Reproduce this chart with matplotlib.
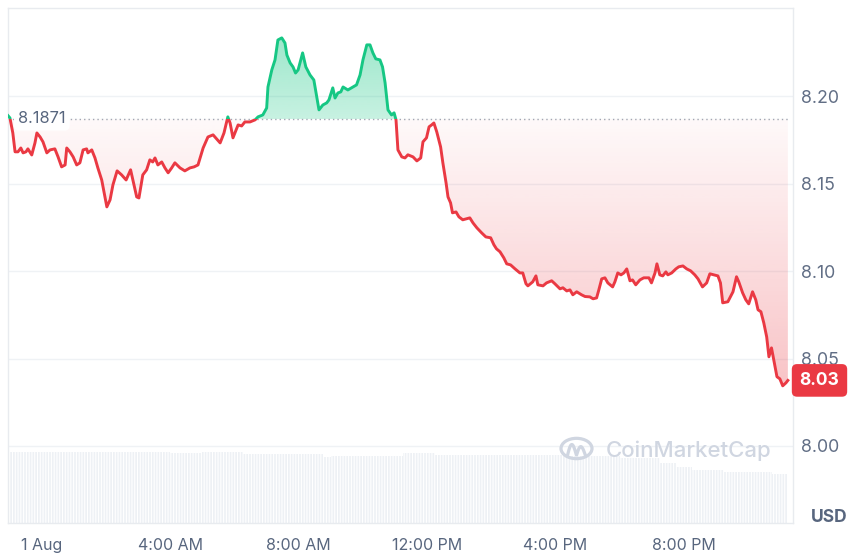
import matplotlib
matplotlib.use("Agg")
import matplotlib.pyplot as plt
import numpy as np
from matplotlib.patches import Rectangle, Circle
from matplotlib.lines import Line2D
from matplotlib.transforms import blended_transform_factory
from matplotlib.colors import to_rgb

plt.rcParams['font.family'] = ['Inter', 'DejaVu Sans']
plt.rcParams['hatch.linewidth'] = 0.8
plt.rcParams['hatch.color'] = 'white'

# ---- data (hours relative to 1 Aug 00:00) ----
hours = [-1.06, -1.00, -0.91, -0.84, -0.75, -0.66, -0.59, -0.50, -0.44, -0.32,
         -0.22, -0.16, -0.06, 0.03, 0.15, 0.25, 0.40, 0.50, 0.61, 0.72,
         0.77, 0.87, 0.97, 1.08, 1.18, 1.28, 1.39, 1.43, 1.55, 1.65,
         1.74, 1.86, 1.96, 2.02, 2.12, 2.21, 2.34, 2.48, 2.62, 2.76,
         2.83, 2.95, 3.02, 3.14, 3.26, 3.36, 3.45, 3.52, 3.61, 3.73,
         3.83, 3.93, 4.04, 4.14, 4.30, 4.45, 4.61, 4.74, 4.86, 5.02,
         5.17, 5.33, 5.55, 5.67, 5.79, 5.86, 5.95, 6.11, 6.22, 6.32,
         6.48, 6.64, 6.73, 6.88, 7.00, 7.04, 7.16, 7.26, 7.35, 7.47,
         7.57, 7.63, 7.73, 7.82, 7.90, 7.98, 8.12, 8.22, 8.35, 8.47,
         8.56, 8.63, 8.75, 8.87, 8.94, 9.06, 9.13, 9.22, 9.31, 9.38,
         9.53, 9.69, 9.80, 9.91, 10.00, 10.12, 10.22, 10.31, 10.40, 10.53,
         10.61, 10.69, 10.78, 10.89, 10.97, 11.03, 11.09, 11.21, 11.31, 11.40,
         11.56, 11.68, 11.80, 11.87, 11.98, 12.06, 12.14, 12.21, 12.30, 12.42,
         12.49, 12.59, 12.65, 12.73, 12.79, 12.90, 12.99, 13.11, 13.33, 13.43,
         13.55, 13.70, 13.83, 13.98, 14.08, 14.16, 14.27, 14.39, 14.48, 14.60,
         14.74, 14.89, 14.98, 15.08, 15.14, 15.29, 15.39, 15.45, 15.61, 15.72,
         15.88, 15.98, 16.14, 16.23, 16.35, 16.45, 16.54, 16.66, 16.81, 16.92,
         17.07, 17.17, 17.28, 17.35, 17.44, 17.54, 17.63, 17.78, 17.85, 17.94,
         18.04, 18.13, 18.22, 18.32, 18.40, 18.50, 18.63, 18.75, 18.91, 18.99,
         19.10, 19.16, 19.25, 19.34, 19.44, 19.50, 19.62, 19.75, 19.84, 19.97,
         20.09, 20.21, 20.34, 20.44, 20.58, 20.71, 20.81, 20.93, 21.06, 21.14,
         21.21, 21.37, 21.53, 21.64, 21.71, 21.83, 21.93, 22.02, 22.14, 22.24,
         22.31, 22.40, 22.49, 22.58, 22.65, 22.73, 22.80, 22.90, 22.99, 23.08,
         23.18, 23.24]

prices = [8.1890, 8.1877, 8.1791, 8.1683, 8.1683, 8.1705, 8.1677, 8.1683, 8.1700, 8.1665,
          8.1734, 8.1791, 8.1768, 8.1740, 8.1677, 8.1694, 8.1700, 8.1654, 8.1597, 8.1608,
          8.1705, 8.1683, 8.1654, 8.1608, 8.1620, 8.1694, 8.1700, 8.1677, 8.1694, 8.1648,
          8.1591, 8.1522, 8.1425, 8.1368, 8.1408, 8.1494, 8.1574, 8.1551, 8.1522, 8.1580,
          8.1522, 8.1425, 8.1419, 8.1551, 8.1580, 8.1637, 8.1625, 8.1648, 8.1608, 8.1625,
          8.1591, 8.1563, 8.1591, 8.1620, 8.1591, 8.1574, 8.1591, 8.1597, 8.1608, 8.1705,
          8.1768, 8.1780, 8.1734, 8.1791, 8.1883, 8.1848, 8.1763, 8.1837, 8.1831, 8.1854,
          8.1854, 8.1866, 8.1883, 8.1894, 8.1934, 8.2054, 8.2152, 8.2209, 8.2323, 8.2335,
          8.2306, 8.2237, 8.2192, 8.2169, 8.2134, 8.2152, 8.2249, 8.2169, 8.2123, 8.2094,
          8.1997, 8.1923, 8.1951, 8.1963, 8.1980, 8.2049, 8.1991, 8.2020, 8.2026, 8.2054,
          8.2037, 8.2054, 8.2066, 8.2123, 8.2209, 8.2295, 8.2295, 8.2249, 8.2215, 8.2209,
          8.2169, 8.2077, 8.1923, 8.1894, 8.1906, 8.1866, 8.1694, 8.1654, 8.1648, 8.1666,
          8.1654, 8.1631, 8.1648, 8.1740, 8.1763, 8.1826, 8.1837, 8.1848, 8.1797, 8.1711,
          8.1620, 8.1505, 8.1425, 8.1391, 8.1334, 8.1339, 8.1311, 8.1294, 8.1305, 8.1276,
          8.1248, 8.1219, 8.1196, 8.1191, 8.1151, 8.1128, 8.1111, 8.1076, 8.1042, 8.1036,
          8.1013, 8.0990, 8.0990, 8.0928, 8.0916, 8.0939, 8.0973, 8.0922, 8.0916, 8.0933,
          8.0945, 8.0928, 8.0899, 8.0905, 8.0887, 8.0893, 8.0865, 8.0882, 8.0865, 8.0855,
          8.0853, 8.0842, 8.0847, 8.0893, 8.0956, 8.0962, 8.0933, 8.0910, 8.0939, 8.0990,
          8.0979, 8.0990, 8.1013, 8.0945, 8.0950, 8.0922, 8.0950, 8.0962, 8.0962, 8.0933,
          8.0990, 8.1042, 8.0979, 8.0973, 8.0996, 8.0979, 8.0990, 8.1013, 8.1025, 8.1030,
          8.1013, 8.1002, 8.0979, 8.0956, 8.0910, 8.0933, 8.0985, 8.0979, 8.0973, 8.0933,
          8.0819, 8.0825, 8.0882, 8.0968, 8.0939, 8.0876, 8.0836, 8.0813, 8.0882, 8.0836,
          8.0779, 8.0768, 8.0704, 8.0624, 8.0510, 8.0561, 8.0493, 8.0396, 8.0384, 8.0344,
          8.0361, 8.0375]

base_price = 8.1871
base_label = "8.1871"
last_label = "8.03"

# volume, 15-minute bars starting at 31 Jul 23:00 (arbitrary units)
vol_start = -1.0
vol_step = 0.25
volume = [71.0, 71.0, 71.2, 71.0, 70.6, 71.0, 71.1, 71.0, 70.6, 70.6,
          71.0, 71.2, 71.5, 71.5, 71.4, 71.5, 71.2, 71.0, 71.0, 71.0,
          70.3, 70.3, 70.3, 70.3, 70.7, 70.7, 70.7, 70.7, 70.7, 68.7,
          68.7, 68.7, 68.7, 68.7, 68.7, 68.7, 68.7, 68.7, 68.7, 66.0,
          67.3, 67.3, 67.3, 67.3, 67.3, 67.3, 67.3, 67.3, 67.3, 69.7,
          69.7, 69.7, 69.7, 68.3, 68.3, 68.3, 68.3, 68.3, 68.3, 68.3,
          68.3, 68.3, 68.3, 68.3, 68.3, 68.3, 68.3, 68.3, 68.3, 67.0,
          67.0, 67.0, 67.0, 67.0, 67.0, 67.0, 64.7, 64.7, 64.7, 64.7,
          64.7, 60.0, 60.0, 56.0, 56.0, 53.0, 53.0, 53.0, 53.0, 51.3,
          51.3, 51.3, 51.3, 51.3, 51.3, 49.0, 49.0]

xtick_hours = [0, 4, 8, 12, 16, 20]
xtick_labels = ['1 Aug', '4:00 AM', '8:00 AM', '12:00 PM', '4:00 PM', '8:00 PM']
ytick_vals = [8.00, 8.05, 8.10, 8.15, 8.20]
ytick_labels = ['8.00', '8.05', '8.10', '8.15', '8.20']

RED = '#ea3943'
GREEN = '#16c784'
TXT = '#58667e'
GRID = '#eff2f5'

W, H = 850, 558
fig = plt.figure(figsize=(W / 100, H / 100), dpi=100)
rect = [8 / W, 35 / H, 785 / W, 515 / H]
xlim = (-1.06, 23.40)
ylim = (7.9559, 8.2506)

# volume axes (behind)
axv = fig.add_axes(rect, zorder=0)
vol_x = [vol_start + i * vol_step for i in range(len(volume))]
axv.bar(vol_x, volume, width=vol_step, align='edge', color='#eef1f5',
        edgecolor='white', linewidth=0, hatch='||||||')
axv.set_xlim(*xlim)
axv.set_ylim(0, 515)
axv.axis('off')

# price axes
ax = fig.add_axes(rect, zorder=1)
ax.patch.set_alpha(0)
ax.set_xlim(*xlim)
ax.set_ylim(*ylim)

for yv in ytick_vals:
    ax.axhline(yv, color=GRID, lw=1.0, zorder=0.5)

h = np.array(hours)
p = np.array(prices)

# fill polygon
poly = ax.fill_between(h, p, base_price, facecolor='none', edgecolor='none', zorder=1)
clip_path = poly.get_paths()[0]

def grad_image(c, a_bottom, a_top, y0, y1):
    r, g, b = to_rgb(c)
    n = 256
    img = np.zeros((n, 1, 4))
    img[:, 0, 0] = r
    img[:, 0, 1] = g
    img[:, 0, 2] = b
    img[:, 0, 3] = np.linspace(a_bottom, a_top, n)
    im = ax.imshow(img, origin='lower', aspect='auto',
                   extent=[h[0], h[-1], y0, y1], zorder=1.5, interpolation='bilinear')
    im.set_clip_path(clip_path, ax.transData)
    return im

grad_image(RED, 0.30, 0.03, p.min(), base_price)
grad_image(GREEN, 0.24, 0.42, base_price, p.max())
ax.set_xlim(*xlim)
ax.set_ylim(*ylim)

# baseline dotted
ax.plot([h[0], h[-1]], [base_price, base_price], color='#a1a7b3', lw=1.0,
        ls=(0, (1, 2.2)), zorder=2)

# lines: red below baseline, green above
lw = 2.1
red_line, = ax.plot(h, p, color=RED, lw=lw, solid_joinstyle='round', zorder=4)
red_line.set_clip_path(Rectangle((xlim[0], ylim[0]), xlim[1] - xlim[0], base_price - ylim[0],
                                 transform=ax.transData))
green_line, = ax.plot(h, p, color=GREEN, lw=lw, solid_joinstyle='round', zorder=4)
green_line.set_clip_path(Rectangle((xlim[0], base_price), xlim[1] - xlim[0], ylim[1] - base_price,
                                   transform=ax.transData))

# base label
ax.text((18 - 8) / 785, base_price, base_label,
        transform=blended_transform_factory(ax.transAxes, ax.transData),
        ha='left', va='center', fontsize=11.8, color=TXT, zorder=3.5,
        bbox=dict(boxstyle='round,pad=0.25,rounding_size=0.3', facecolor='white', edgecolor='none'))

# last price label
ax.text((819.5 - 8) / 785, p[-1], last_label,
        transform=blended_transform_factory(ax.transAxes, ax.transData),
        ha='center', va='center', fontsize=12.5, fontweight='bold', color='white',
        zorder=6, clip_on=False,
        bbox=dict(boxstyle='round,pad=0.45,rounding_size=0.3', facecolor=RED, edgecolor='none'))

# ticks
ax.set_xticks(xtick_hours)
ax.set_xticklabels(xtick_labels)
ax.yaxis.tick_right()
ax.set_yticks(ytick_vals)
ax.set_yticklabels(ytick_labels)
ax.tick_params(axis='x', length=0, pad=11, labelsize=11.5, labelcolor=TXT)
ax.tick_params(axis='y', length=0, pad=6, labelsize=12.8, labelcolor='#616e85')
for s in ax.spines.values():
    s.set_color('#e8ebef')
    s.set_linewidth(1.0)

# USD
fig.text(829 / W, 1 - 517 / H, 'USD', ha='center', va='center', fontsize=12.5,
         fontweight='bold', color=TXT)

# watermark
wm = '#d0d6e1'
cx, cy, r = 576.5, 448.5, 15.5
fig.patches.append(Circle((cx / W, 1 - cy / H), r / W, transform=fig.transFigure,
                          fill=False, edgecolor=wm, lw=2.3))
t = np.linspace(0, 1, 60)
mx = cx - 9 + 18 * t
my = cy + 7 - 12 * np.abs(np.sin(np.pi * 2 * t)) * (1 - 0.35 * t)
fig.lines.append(Line2D(mx / W, 1 - my / H, transform=fig.transFigure, color=wm,
                        lw=2.3, solid_capstyle='round'))
fig.text(606 / W, 1 - 451 / H, 'CoinMarketCap', ha='left', va='center', fontsize=16,
         color=wm, fontweight='medium')

fig.savefig('out.png', dpi=100)
